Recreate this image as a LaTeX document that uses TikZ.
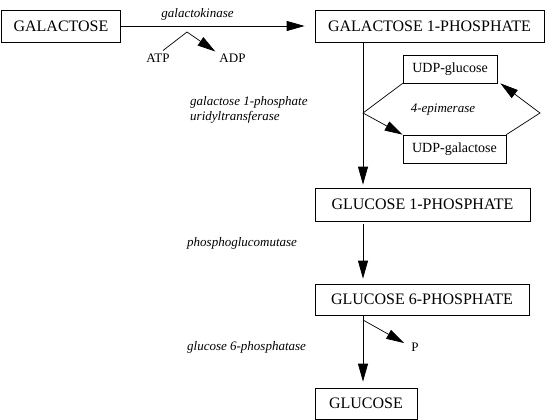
\documentclass[tikz,border=0pt]{standalone}
\usepackage{fontspec}
\setmainfont{Liberation Serif}
\usetikzlibrary{arrows.meta}

\tikzset{
  compound/.style={draw,line width=0.7pt,minimum height=32pt,inner xsep=0pt,font=\fontsize{16}{18}\selectfont},
  udp/.style={draw,line width=0.7pt,minimum height=28pt,inner xsep=0pt,font=\fontsize{14}{16}\selectfont},
  enzyme/.style={inner sep=0pt,font=\fontsize{13}{15}\selectfont\itshape},
  side/.style={inner sep=0pt,font=\fontsize{13}{15}\selectfont},
  ln/.style={line width=0.7pt},
  arr/.style={line width=0.7pt,-{Triangle[length=18pt,width=10pt]}}
}

\begin{document}
\begin{tikzpicture}[x=1pt,y=-1pt]
    \useasboundingbox (0,0) rectangle (560,420);
    \node[compound,minimum width=119pt] (gal) at (61,26) {GALACTOSE};
    \node[compound,minimum width=229pt] (galp) at (429.5,26) {GALACTOSE 1-PHOSPHATE};
    \node[udp,minimum width=94pt] (udpglc) at (450,69) {UDP-glucose};
    \node[udp,minimum width=103pt] (udpgal) at (454.5,149) {UDP-galactose};
    \node[compound,minimum width=215pt,minimum height=33pt] (g1p) at (422.5,204.5) {GLUCOSE 1-PHOSPHATE};
    \node[compound,minimum width=214pt,minimum height=31pt] (g6p) at (422,299.5) {GLUCOSE 6-PHOSPHATE};
    \node[compound,minimum width=102pt,minimum height=31pt] (glc) at (366,403.5) {GLUCOSE};
    \node[enzyme] (kin) at (197.5,14) {galactokinase};
    \node[enzyme,anchor=west,align=left] (trans) at (190,109.5) {galactose 1-phosphate\\uridyltransferase};
    \node[enzyme] (epi) at (443,110) {4-epimerase};
    \node[enzyme,anchor=west] (mut) at (187,243) {phosphoglucomutase};
    \node[enzyme,anchor=west] (ptase) at (187,347) {glucose 6-phosphatase};
    \node[side] (atp) at (158,58) {ATP};
    \node[side] (adp) at (232.5,58) {ADP};
    \node[side] (p) at (415,347) {P};
    \coordinate (k) at (187,32);
    \coordinate (j1) at (363,113);
    \coordinate (j2) at (540,113);
    \coordinate (j3) at (363,320);
    \draw[arr] (gal.east) -- ([xshift=-10pt]galp.west);
    \draw[arr] ([shift={(5,-3)}]atp.north) -- (k) -- ([shift={(-4,-2)}]adp.north west);
    \draw[arr,shorten >=3pt] (j1 |- galp.south) -- (j1 |- g1p.north);
    \draw[arr] (udpglc.south west) -- (j1) -- (udpgal.north west);
    \draw[arr] (udpgal.north east) -- (j2) -- ([xshift=3pt]udpglc.south east);
    \draw[arr,shorten <=3pt,shorten >=5pt] (j1 |- g1p.south) -- (j1 |- g6p.north);
    \draw[arr,shorten >=6pt] (j3) -- (j1 |- glc.north);
    \draw[ln] (j1 |- g6p.south) -- (j3);
    \draw[arr,shorten >=8pt] (j3) -- (p.west);
\end{tikzpicture}
\end{document}
